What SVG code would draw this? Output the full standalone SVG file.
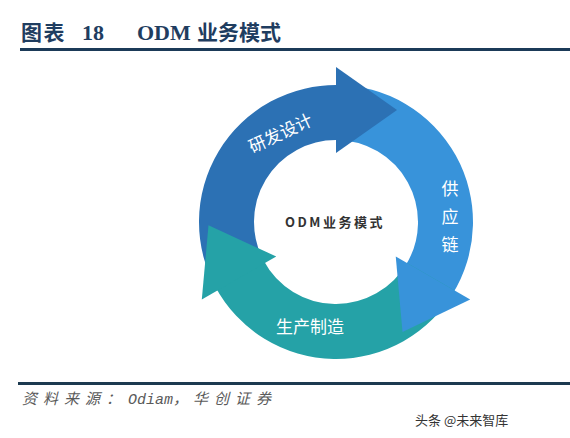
<svg xmlns="http://www.w3.org/2000/svg" width="570" height="438" viewBox="0 0 570 438">
  <style>
    .cjk { font-family: "Noto Sans CJK SC", "Noto Sans", sans-serif; }
    .title { fill: #1f3d60; font-weight: bold; font-size: 21px; }
    .titleLat { font-family: "Liberation Serif", "Noto Sans CJK SC", serif; font-weight: bold; font-size: 22px; fill: #1f3d60; }
    .seglabel { fill: #ffffff; font-size: 17px; }
    .center { fill: #333333; font-size: 13px; font-weight: bold; letter-spacing: 2.5px; }
    .src { fill: #5a5a5a; font-size: 15px; font-style: italic; }
    .rd { fill: #2c71b4; }
    .sc { fill: #3893da; }
    .mf { fill: #25a2a7; }
  </style>
  <rect x="0" y="0" width="570" height="438" fill="#ffffff"/>

  <g id="title">
    <text class="cjk title" x="21" y="40" letter-spacing="1.5">图表</text>
    <text class="titleLat" x="82" y="40">18</text>
    <text class="titleLat" x="137" y="40">ODM</text>
    <text class="cjk title" x="197" y="40" font-size="20">业务模式</text>
    <rect x="20" y="48" width="550" height="3" fill="#1b3a58"/>
  </g>

  <g id="seg-rd">
    <path class="rd" d="M 217.36 290.5 A 137 137 0 0 1 340.78 85.08 L 338.86 140.05 A 82 82 0 0 0 264.99 263 Z"/>
  </g>
  <g id="seg-supply">
    <path class="sc" d="M 336 85 A 137 137 0 0 1 452.18 294.6 L 405.54 265.45 A 82 82 0 0 0 336 140 Z"/>
  </g>
  <g id="seg-mfg">
    <path class="mf" d="M 454.64 290.5 A 137 137 0 0 1 215.04 286.32 L 263.6 260.5 A 82 82 0 0 0 407.01 263 Z"/>
  </g>

  <g id="connectors">
    <polygon class="rd" points="336,67 397,110 336,153"/>
    <polygon class="sc" points="395.75,256.5 470.2,299.5 402.5,332"/>
    <polygon class="mf" points="201.8,299.5 276.25,256.5 208.5,225.2"/>
  </g>

  <g id="label-rd">
    <text class="cjk seglabel" x="280" y="132" text-anchor="middle" dominant-baseline="central" transform="rotate(-25 280 132)">研发设计</text>
  </g>
  <g id="label-supply">
    <text class="cjk seglabel" x="450" y="187" text-anchor="middle" dominant-baseline="central" font-size="20" fill="#e2f0fb">供</text>
    <text class="cjk seglabel" x="450" y="215" text-anchor="middle" dominant-baseline="central" font-size="20" fill="#e2f0fb">应</text>
    <text class="cjk seglabel" x="450" y="243" text-anchor="middle" dominant-baseline="central" font-size="20" fill="#e2f0fb">链</text>
  </g>
  <g id="label-mfg">
    <text class="cjk seglabel" x="310" y="325" text-anchor="middle" dominant-baseline="central" font-size="19" fill="#eafafa">生产制造</text>
  </g>
  <g id="center">
    <text class="cjk center" x="285" y="227">ODM业务模式</text>
  </g>

  <g id="footer">
    <rect x="18" y="382" width="552" height="3" fill="#1c3a50"/>
    <text class="cjk src" x="22" y="404" letter-spacing="6">资料来源：</text>
    <text class="src" x="128" y="404" font-family="Liberation Mono, monospace" font-size="13">Odiam</text>
    <text class="cjk src" x="173" y="404">，</text>
    <text class="cjk src" x="193" y="404" letter-spacing="6">华创证券</text>
    <text class="cjk" x="415" y="425" font-size="13" fill="#333333">头条 @未来智库</text>
  </g>
</svg>
